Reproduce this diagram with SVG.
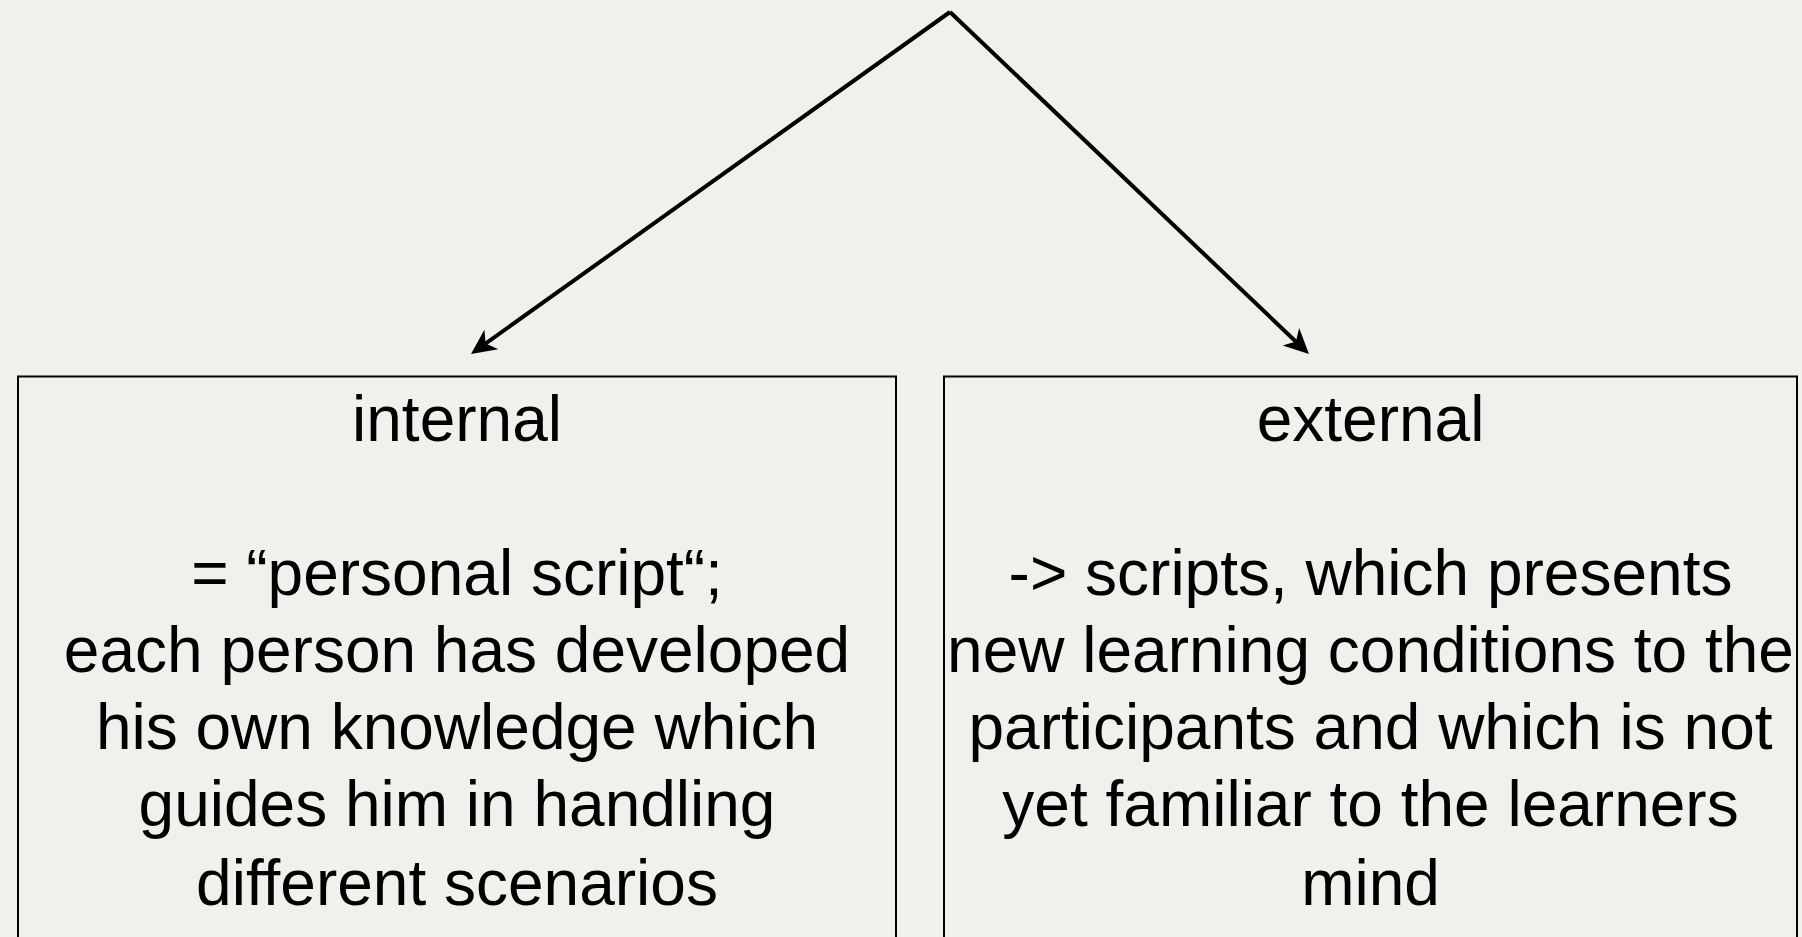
<svg xmlns="http://www.w3.org/2000/svg" width="1802" height="937" viewBox="0 0 1802 937">
<style>
.bg{fill:#f0f0ec}
.box{fill:none;stroke:#000;stroke-width:2}
.edge{fill:none;stroke:#000;stroke-width:4}
.t{font-family:"Liberation Sans",Arial,Helvetica,sans-serif;font-size:64px;fill:#000;text-anchor:middle}
</style>
<defs>
<marker id="arr" markerUnits="userSpaceOnUse" markerWidth="28" markerHeight="26" refX="18" refY="12" orient="auto" overflow="visible">
<path d="M0,0 L25,12 L0,24 L7,12 Z" fill="#000"/>
</marker>
</defs>
<rect class="bg" x="0" y="0" width="1802" height="937"/>
<g id="connectors">
<line class="edge" x1="950" y1="12" x2="476.7" y2="349.9" marker-end="url(#arr)"/>
<line class="edge" x1="950" y1="12" x2="1303.9" y2="349.2" marker-end="url(#arr)"/>
</g>
<g id="internal">
<rect class="box" x="18" y="376.5" width="878" height="600"/>
<text class="t" x="457" y="441">internal</text>
<text class="t" x="457" y="595">= “personal script“;</text>
<text class="t" x="457" y="672">each person has developed</text>
<text class="t" x="457" y="749">his own knowledge which</text>
<text class="t" x="457" y="826">guides him in handling</text>
<text class="t" x="457" y="905">different scenarios</text>
</g>
<g id="external">
<rect class="box" x="944" y="376.5" width="853" height="600"/>
<text class="t" x="1370.5" y="441">external</text>
<text class="t" x="1370.5" y="595">-&gt; scripts, which presents</text>
<text class="t" x="1370.5" y="672">new learning conditions to the</text>
<text class="t" x="1370.5" y="749">participants and which is not</text>
<text class="t" x="1370.5" y="826">yet familiar to the learners</text>
<text class="t" x="1370.5" y="905">mind</text>
</g>
</svg>
